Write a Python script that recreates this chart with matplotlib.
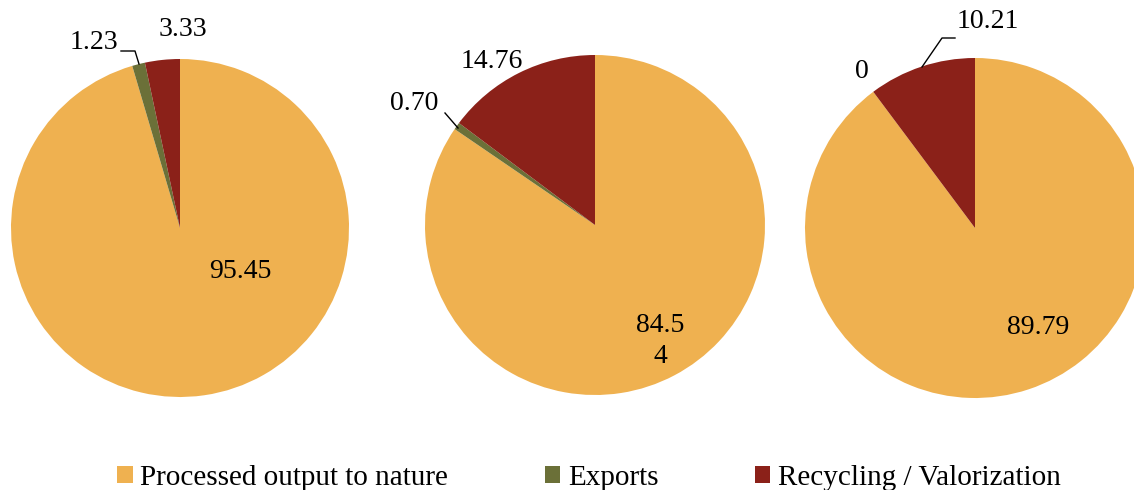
import matplotlib
matplotlib.use("Agg")
import matplotlib.pyplot as plt
from matplotlib.patches import Patch

categories = ["Processed output to nature", "Exports", "Recycling / Valorization"]
pie1 = [95.45, 1.23, 3.33]
pie2 = [84.54, 0.70, 14.76]
pie3 = [89.79, 0.0, 10.21]
labels1 = ["95.45", "1.23", "3.33"]
labels2 = ["84.5\n4", "0.70", "14.76"]
labels3 = ["89.79", "0", "10.21"]
colors = ["#EFB150", "#6B7038", "#8B2119"]

plt.rcParams['font.family'] = ['Liberation Serif', 'DejaVu Serif']
W, H = 1134, 490
fig = plt.figure(figsize=(W / 100, H / 100), dpi=100)
ax = fig.add_axes([0, 0, 1, 1])

fs = 20

def Y(y):
    return H - y

pies = [
    (pie1, labels1, (180, 228), 169,
     [(240, 272), (94, 43), (183, 30)],
     [None, [(121, 51), (135, 51), (139, 64)], None]),
    (pie2, labels2, (595, 225), 170,
     [(660, 341), (414, 104), (492, 62)],
     [None, [(445, 113), (458, 128)], None]),
    (pie3, labels3, (975, 228), 170,
     [(1038, 328), (862, 72), (988, 22)],
     [None, None, [(955, 38), (942, 38), (922, 67)]]),
]

for vals, labs, (cx, cy), r, lpos, leaders in pies:
    ax.pie(vals, colors=colors, startangle=90, counterclock=False,
           center=(cx, Y(cy)), radius=r, frame=True,
           wedgeprops=dict(linewidth=0))
    for lab, (lx, ly), ld in zip(labs, lpos, leaders):
        ax.text(lx, Y(ly), lab, ha='center', va='center', fontsize=fs,
                color='black', linespacing=1.35)
        if ld:
            ax.plot([p[0] for p in ld], [Y(p[1]) for p in ld],
                    color='black', lw=1)

ax.set_xlim(0, W)
ax.set_ylim(0, H)
ax.set_aspect('equal')
ax.axis('off')

handles = [Patch(facecolor=c, edgecolor='none') for c in colors]
fig.legend(handles, categories, loc='center', bbox_to_anchor=(589 / W, 1 - 478 / H),
           ncol=3, frameon=False, fontsize=21, handlelength=0.53, handleheight=0.53,
           handletextpad=0.27, columnspacing=3.3, borderpad=0, borderaxespad=0)

fig.savefig("out.png", dpi=100)
